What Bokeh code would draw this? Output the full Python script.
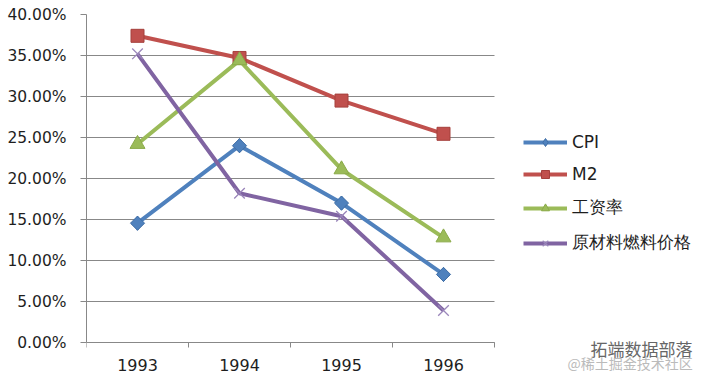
import math
from bokeh.plotting import figure
from bokeh.models import (FixedTicker, NumeralTickFormatter, Range1d, Legend, LegendItem, Label)
from bokeh.embed import file_html
from bokeh.resources import INLINE

years = ["1993", "1994", "1995", "1996"]
cpi = [0.1455, 0.240, 0.170, 0.083]
m2 = [0.374, 0.347, 0.295, 0.2545]
wage = [0.242, 0.344, 0.211, 0.128]
raw = [0.352, 0.182, 0.154, 0.039]
y_ticks = [0.0, 0.05, 0.10, 0.15, 0.20, 0.25, 0.30, 0.35, 0.40]

xs = [i + 0.5 for i in range(len(years))]

# layout (pixels)
W, H = 713, 381
LEFT, TOP = 86, 14
PLOT_RIGHT, PLOT_BOTTOM = 494, 342      # where the chart area ends
n = len(years)
px_per_x = (PLOT_RIGHT - LEFT) / n
y_max = 0.40
px_per_y = (PLOT_BOTTOM - TOP) / y_max
x_end = (W - LEFT) / px_per_x
y_start = y_max - (H - TOP) / px_per_y

p = figure(width=W, height=H, output_backend="svg", toolbar_location=None,
           x_range=Range1d(0, x_end), y_range=Range1d(y_start, y_max),
           min_border_left=LEFT, min_border_top=TOP, min_border_right=0, min_border_bottom=0)
p.outline_line_color = None
p.background_fill_color = "white"

font = "DejaVu Sans"
txt = "#1e1e1e"
grid = "#888888"

# x axis, drawn at y = 0
p.xaxis.fixed_location = 0
p.xaxis.bounds = (0, n)
p.xaxis.ticker = FixedTicker(ticks=xs, minor_ticks=list(range(n + 1)))
p.xaxis.major_label_overrides = {x: y for x, y in zip(xs, years)}
p.xaxis.major_tick_line_color = None
p.xaxis.major_tick_out = 5
p.xaxis.major_tick_in = 0
p.xaxis.minor_tick_line_color = grid
p.xaxis.minor_tick_out = 5
p.xaxis.minor_tick_in = 0
p.xaxis.minor_tick_line_width = 1
p.xaxis.axis_line_color = grid
p.xaxis.major_label_text_font = font
p.xaxis.major_label_text_font_size = "16px"
p.xaxis.major_label_text_color = txt
p.xaxis.major_label_standoff = 11

p.yaxis.bounds = (0, y_max)
p.yaxis.ticker = FixedTicker(ticks=y_ticks)
p.yaxis.formatter = NumeralTickFormatter(format="0.00%")
p.yaxis.minor_tick_line_color = None
p.yaxis.major_tick_line_color = grid
p.yaxis.major_tick_out = 6
p.yaxis.major_tick_in = 0
p.yaxis.axis_line_color = grid
p.yaxis.major_label_text_font = font
p.yaxis.major_label_text_font_size = "15.5px"
p.yaxis.major_label_text_color = txt
p.yaxis.major_label_standoff = 14

p.xgrid.grid_line_color = None
p.ygrid.ticker = FixedTicker(ticks=y_ticks)
p.ygrid.cross_bounds = (0, n)
p.ygrid.grid_line_color = grid
p.ygrid.grid_line_width = 1

# name, values, colour, marker edge, marker, size, angle, legend marker
series = [
    ("CPI", cpi, "#4F81BD", "#3F6EA6", "square", 10, math.pi / 4, "diamond"),
    ("M2", m2, "#C0504D", "#A5403D", "square", 13, 0, None),
    ("工资率", wage, "#9BBB59", "#8AAA48", "triangle", 15, 0, None),
    ("原材料燃料价格", raw, "#8064A2", "#9A86BA", "x", 15, 0, None),
]

items = []
for name, vals, col, edge, marker, size, ang, leg_marker in series:
    r1 = p.line(xs, vals, line_color=col, line_width=4)
    leg = None
    if leg_marker is not None:
        # diamond drawn beneath the rotated square; it is what the legend shows
        leg = p.scatter(xs, vals, marker=leg_marker, size=14, fill_color=col,
                        line_color=edge, line_width=1)
    if marker == "x":
        r2 = p.scatter(xs, vals, marker="x", size=size, line_color=edge, line_width=1.3)
    else:
        r2 = p.scatter(xs, vals, marker=marker, size=size, angle=ang,
                       fill_color=col, line_color=edge, line_width=1)
    items.append(LegendItem(label=name, renderers=[r1, leg if leg is not None else r2]))

legend = Legend(items=items, location=(523 - LEFT, H - 254), orientation="vertical",
                glyph_width=44, glyph_height=20, label_height=20, spacing=12,
                padding=0, margin=0, label_standoff=5,
                label_text_font=font, label_text_font_size="17px", label_text_color=txt,
                border_line_color=None, background_fill_alpha=0)
p.add_layout(legend, "center")

# watermark in the bottom-right corner
p.add_layout(Label(x=590 - LEFT, y=H - 348, x_units="screen", y_units="screen",
                   text="拓端数据部落", text_font_size="17px", text_color="#666666",
                   text_baseline="middle", text_font="Noto Sans CJK SC"))
p.add_layout(Label(x=567 - LEFT, y=H - 362, x_units="screen", y_units="screen",
                   text="@稀土掘金技术社区", text_font_size="14px", text_color="#bbbbbb",
                   text_baseline="middle", text_font="Noto Sans CJK SC"))

open("out.html", "w").write(file_html(p, INLINE))
